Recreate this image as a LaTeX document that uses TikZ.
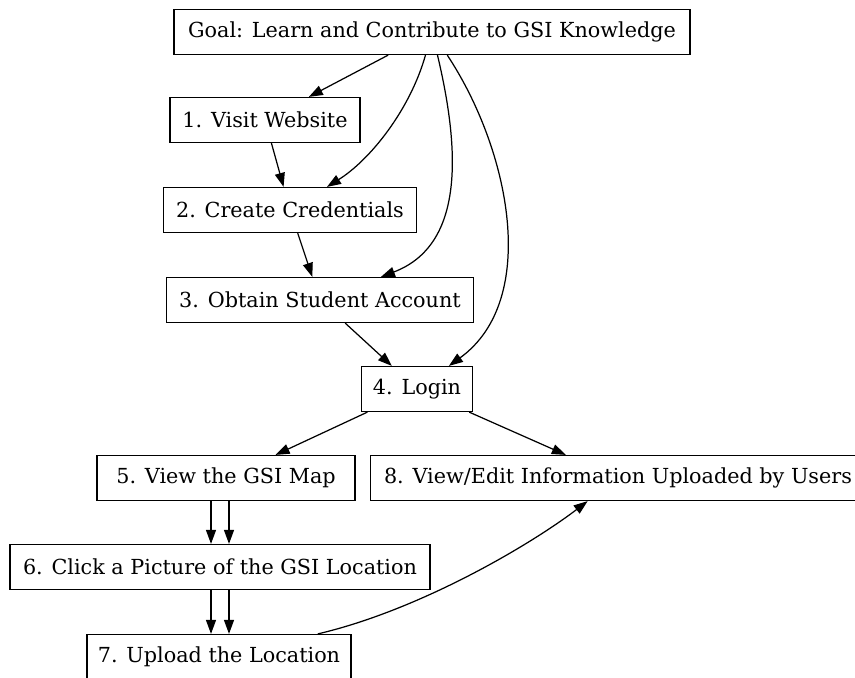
\documentclass[tikz,border=0pt]{standalone}
\usepackage{fontspec}
\setmainfont{DejaVu Serif}
\usepackage{tikz}
\usetikzlibrary{arrows.meta,positioning,calc}

\begin{document}
\begin{tikzpicture}[
    x=0.02cm, y=-0.02cm,
    every node/.style={font=\fontsize{11.8}{14}\selectfont},
    stepbox/.style={draw, line width=0.7pt, minimum height=0.9cm, inner xsep=0pt},
    arr/.style={-{Triangle[length=0.28cm,width=0.2cm]}, line width=0.7pt}
  ]
    % canvas, cut off like the reference
    \useasboundingbox (0,0) rectangle (855,677);
    \clip (0,0) rectangle (855,677);
    % Steps
    \node[stepbox, minimum width=10.32cm] (goal) at (432,32) {Goal: Learn and Contribute to GSI Knowledge};
    \node[stepbox, minimum width=3.8cm] (visit) at (265,120) {1. Visit Website};
    \node[stepbox, minimum width=5.06cm] (cred) at (290,210) {2. Create Credentials};
    \node[stepbox, minimum width=6.14cm] (acct) at (320,300) {3. Obtain Student Account};
    \node[stepbox, minimum width=2.22cm] (login) at (417,389) {4. Login};
    \node[stepbox, minimum width=5.16cm] (map) at (226,478) {5. View the GSI Map};
    \node[stepbox, minimum width=9.9cm] (edit) at (618,478) {8. View/Edit Information Uploaded by Users};
    \node[stepbox, minimum width=8.4cm] (pic) at (220,567) {6. Click a Picture of the GSI Location};
    \node[stepbox, minimum width=5.28cm] (upload) at (219,657) {7. Upload the Location};
    % Edges from the goal
    \draw[arr] (goal) -- (visit);
    \draw[arr] (goal) .. controls (410,110) and (370,160) .. (cred);
    \draw[arr] (goal) .. controls (460,150) and (465,245) .. (acct);
    \draw[arr] (goal) .. controls (510,150) and (540,300) .. (login);
    % Chain
    \draw[arr] (visit) -- (cred);
    \draw[arr] (cred) -- (acct);
    \draw[arr] (acct) -- (login);
    \draw[arr] (login) -- (map);
    \draw[arr] (login) -- (edit);
    \draw[arr] ([xshift=-0.18cm]pic.north |- map.south) -- ([xshift=-0.18cm]pic.north);
    \draw[arr] ([xshift=0.18cm]pic.north |- map.south) -- ([xshift=0.18cm]pic.north);
    \draw[arr] ([xshift=-0.18cm]pic.south) -- ([xshift=-0.18cm]pic.south |- upload.north);
    \draw[arr] ([xshift=0.18cm]pic.south) -- ([xshift=0.18cm]pic.south |- upload.north);
    \draw[arr] (upload) .. controls (420,610) and (530,545) .. (edit);
\end{tikzpicture}
\end{document}
